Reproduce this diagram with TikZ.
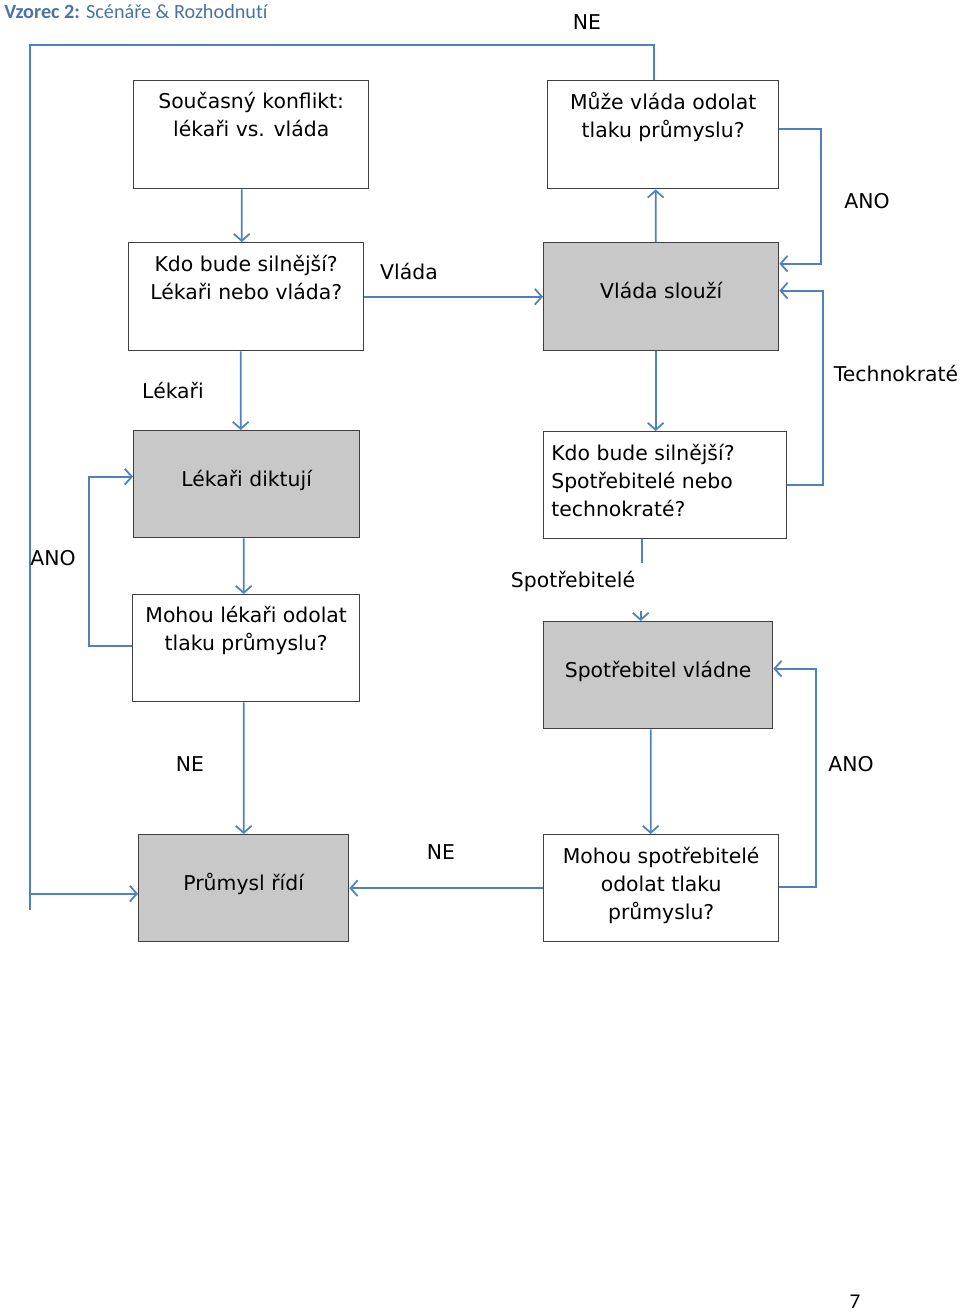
\documentclass[tikz,border=0pt]{standalone}
\usepackage{fontspec}
\setmainfont{DejaVu Sans}
\newfontfamily\titlefont[Ligatures=NoCommon]{Carlito}
\usetikzlibrary{positioning,arrows.meta}

\definecolor{linkblue}{HTML}{4F81BD}
\definecolor{titleblue}{HTML}{4A72A8}
\definecolor{boxgray}{RGB}{200,200,200}
\definecolor{edgegray}{RGB}{64,64,64}

\tikzset{
  box/.style={draw=edgegray, line width=0.8pt, rectangle, anchor=north west,
    inner sep=0pt, font=\fontsize{11.6}{15.9}\selectfont},
  outcome/.style={box, fill=boxgray, text height=0.3cm, text depth=0.22cm},
  btext/.style={inner sep=0pt, align=center, font=\fontsize{11.6}{15.9}\selectfont},
  lbl/.style={inner sep=0pt, font=\fontsize{11.6}{15.9}\selectfont},
  flow/.style={linkblue, line width=1pt},
  arr/.style={flow, -{Straight Barb[length=4pt,width=9pt]}},
}

\begin{document}
\begin{tikzpicture}[x=0.02cm,y=-0.02cm]
  % page, measured in pixels of the scan
  \useasboundingbox (0,0) rectangle (960,1313);

  \node[anchor=base west, inner sep=0pt, text=titleblue,
        font=\titlefont\fontsize{11.5}{14}\selectfont] (title) at (4,18)
        {\textbf{Vzorec 2:} Scénáře \& Rozhodnutí};

  % question boxes (white)
  \node[box, minimum width=4.70cm, minimum height=2.16cm] (konflikt) at (133,80) {};
  \node[box, minimum width=4.62cm, minimum height=2.16cm] (muze) at (547,80) {};
  \node[box, minimum width=4.70cm, minimum height=2.16cm] (kdoA) at (128,242) {};
  \node[box, minimum width=4.86cm, minimum height=2.14cm] (kdoB) at (543,431) {};
  \node[box, minimum width=4.54cm, minimum height=2.14cm] (mohouL) at (132,594) {};
  \node[box, minimum width=4.70cm, minimum height=2.14cm] (mohouS) at (543,834) {};

  \node[btext, below=0.24cm of konflikt.north] (konfliktT) {Současný konflikt:\\lékaři vs. vláda};
  \node[btext, below=0.24cm of muze.north] (muzeT) {Může vláda odolat\\tlaku průmyslu?};
  \node[btext, below=0.26cm of kdoA.north] (kdoAT) {Kdo bude silnější?\\Lékaři nebo vláda?};
  \node[btext, align=left, below right=0.26cm and 0.16cm of kdoB.north west] (kdoBT)
        {Kdo bude silnější?\\Spotřebitelé nebo\\technokraté?};
  \node[btext, below=0.24cm of mohouL.north] (mohouLT) {Mohou lékaři odolat\\tlaku průmyslu?};
  \node[btext, below=0.26cm of mohouS.north] (mohouST) {Mohou spotřebitelé\\odolat tlaku\\průmyslu?};

  % outcome boxes (gray)
  \node[outcome, minimum width=4.70cm, minimum height=2.16cm] (sluzi) at (543,242) {Vláda slouží};
  \node[outcome, minimum width=4.52cm, minimum height=2.14cm] (diktuji) at (133,430) {Lékaři diktují};
  \node[outcome, minimum width=4.58cm, minimum height=2.14cm] (vladne) at (543,621) {Spotřebitel vládne};
  \node[outcome, minimum width=4.20cm, minimum height=2.14cm] (prumysl) at (138,834) {Průmysl řídí};

  % long NE loop round the left side
  \coordinate (loopTL) at (30,45);
  \coordinate (loopBL) at (30,910);
  \draw[arr] ([xshift=-0.19cm]muze.north) |- (loopTL) |- ([yshift=-0.11cm]prumysl.west);
  \draw[flow] (loopTL) -- (loopBL);

  % left column
  \draw[arr] ([xshift=-0.19cm]konflikt.south) -- ([xshift=-0.09cm]kdoA.north);
  \draw[arr] ([xshift=-0.11cm]kdoA.south) -- ([xshift=-0.12cm]diktuji.north);
  \draw[arr] ([xshift=-0.06cm]diktuji.south) -- ([xshift=-0.05cm]mohouL.north);
  \draw[arr] ([yshift=0.05cm]mohouL.west) -- ++(-43,0) |- ([yshift=0.15cm]diktuji.west);
  \draw[arr] ([xshift=-0.05cm]mohouL.south) -- (prumysl.north);

  % across
  \draw[arr] (kdoA.east) -- (sluzi.west);
  \draw[arr] (mohouS.west) -- (prumysl.east);

  % right column
  \draw[arr] ([xshift=-0.11cm]sluzi.north) -- ([xshift=-0.15cm]muze.south);
  \draw[arr] ([yshift=0.12cm]muze.east) -- ++(42,0) |- ([yshift=0.66cm]sluzi.east);
  \draw[arr] (kdoB.east) -- ++(36,0) |- ([yshift=0.12cm]sluzi.east);
  \draw[arr] ([xshift=-0.11cm]sluzi.south) -- ([xshift=-0.19cm]kdoB.north);
  \draw[flow] ([xshift=-0.47cm]kdoB.south) -- ++(0,24);
  \draw[arr] ([xshift=-0.35cm,yshift=0.2cm]vladne.north) -- ([xshift=-0.35cm]vladne.north);
  \draw[arr] ([xshift=-0.15cm]vladne.south) -- ([xshift=-0.21cm]mohouS.north);
  \draw[arr] ([yshift=0.03cm]mohouS.east) -- ++(37,0) |- ([yshift=0.13cm]vladne.east);

  % answers on the connectors
  \node[lbl] (neTop) at (587,22) {NE};
  \node[lbl] (anoA) at (867,201) {ANO};
  \node[lbl] (vladaL) at (409,271) {Vláda};
  \node[lbl] (lekariL) at (173,390) {Lékaři};
  \node[lbl] (technoL) at (896,373) {Technokraté};
  \node[lbl] (anoB) at (53,558) {ANO};
  \node[lbl] (spotL) at (573,581) {Spotřebitelé};
  \node[lbl] (neB) at (190,764) {NE};
  \node[lbl] (anoC) at (851,764) {ANO};
  \node[lbl] (neC) at (441,852) {NE};

  \node[inner sep=0pt, font=\titlefont\fontsize{12}{14}\selectfont] (pageno) at (855,1302) {7};
\end{tikzpicture}
\end{document}
